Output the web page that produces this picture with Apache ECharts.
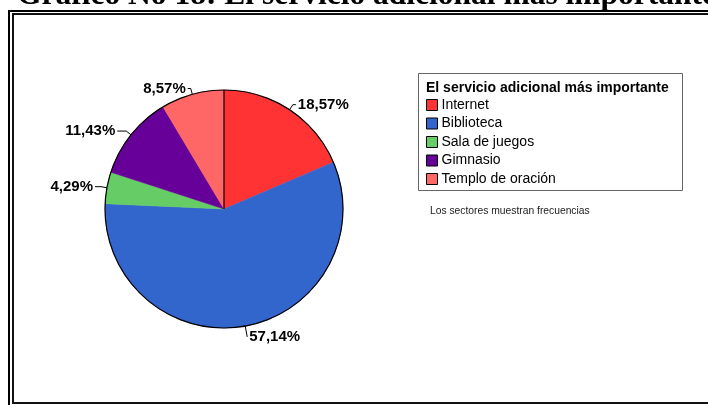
<!DOCTYPE html>
<html>
<head>
<meta charset="utf-8">
<script src="https://cdn.jsdelivr.net/npm/echarts@6/dist/echarts.min.js"></script>
<style>
  html, body { margin: 0; padding: 0; background: #fff; }
  #chart { width: 708px; height: 405px; }
</style>
</head>
<body>
<div id="chart"></div>
<script>
// Respuestas: servicio adicional más importante (frecuencias)
var categories = ['Internet', 'Biblioteca', 'Sala de juegos', 'Gimnasio', 'Templo de oración'];
var frequencies = [13, 40, 3, 8, 6];
var sliceColors = ['#FF3333', '#3366CC', '#66CC66', '#660099', '#FF6666'];
// leader lines: radial part and horizontal part for each label
var leaderOut = [6, 11, 6, 6, 6];
var leaderRun = [3, 0, 6, 9, 3];

var chartTitle = 'Gráfico No 18: El servicio adicional más importante';
var legendTitle = 'El servicio adicional más importante';
var footNote = 'Los sectores muestran frecuencias';

var pieCenter = [224, 209];
var pieRadius = 119;
var sans = '"Liberation Sans", Arial, sans-serif';

var total = frequencies.reduce(function (a, b) { return a + b; }, 0);

var chart = echarts.init(document.getElementById('chart'), null, { renderer: 'canvas' });

chart.setOption({
  animation: false,
  backgroundColor: '#ffffff',
  title: [{
    text: chartTitle,
    left: 17,
    top: -20,
    padding: 0,
    textStyle: { fontFamily: '"Liberation Serif", "Times New Roman", serif', fontWeight: 'bold', fontSize: 31.5, color: '#000' }
  }, {
    text: legendTitle,
    left: 426,
    top: 81,
    padding: 0,
    textStyle: { fontFamily: sans, fontWeight: 'bold', fontSize: 14, color: '#000' }
  }, {
    text: footNote,
    left: 430,
    top: 206,
    padding: 0,
    textStyle: { fontFamily: sans, fontWeight: 'normal', fontSize: 10.3, color: '#222' }
  }],
  legend: {
    orient: 'vertical',
    left: 426,
    top: 98,
    padding: 0,
    itemWidth: 11,
    itemHeight: 11,
    itemGap: 4.5,
    icon: 'rect',
    selectedMode: false,
    data: categories,
    itemStyle: { borderColor: '#000', borderWidth: 1 },
    textStyle: { fontFamily: sans, fontSize: 14, color: '#000', padding: [0, 0, 0, -1] }
  },
  graphic: [
    // double frame
    { type: 'rect', silent: true, shape: { x: 9, y: 11, width: 800, height: 500 },
      style: { fill: 'none', stroke: '#000', lineWidth: 2 } },
    { type: 'rect', silent: true, shape: { x: 13, y: 14, width: 800, height: 389 },
      style: { fill: 'none', stroke: '#111', lineWidth: 2 } },
    // legend box
    { type: 'rect', silent: true, shape: { x: 418.5, y: 73.5, width: 264, height: 117 },
      style: { fill: 'none', stroke: '#666', lineWidth: 1 } },
    // start radius of the pie
    { type: 'line', silent: true, z: 10,
      shape: { x1: pieCenter[0], y1: pieCenter[1], x2: pieCenter[0], y2: pieCenter[1] - pieRadius },
      style: { stroke: '#000', lineWidth: 1.2 } }
  ],
  series: [{
    type: 'pie',
    center: pieCenter,
    radius: pieRadius,
    startAngle: 90,
    clockwise: true,
    avoidLabelOverlap: false,
    percentPrecision: 2,
    data: categories.map(function (name, i) {
      return {
        name: name,
        value: frequencies[i],
        itemStyle: { color: sliceColors[i], borderColor: sliceColors[i], borderWidth: 0.5 },
        labelLine: { length: leaderOut[i], length2: leaderRun[i] }
      };
    }),
    label: {
      show: true,
      position: 'outside',
      distanceToLabelLine: 2,
      formatter: function (p) { return p.percent.toFixed(2).replace('.', ',') + '%'; },
      fontFamily: sans,
      fontWeight: 'bold',
      fontSize: 15,
      color: '#000'
    },
    labelLine: { show: true, length: 6, length2: 3, lineStyle: { color: '#000', width: 1 } },
    emphasis: { disabled: true }
  }, {
    // outline of the whole disc
    type: 'pie',
    silent: true,
    center: pieCenter,
    radius: pieRadius,
    startAngle: 90,
    z: 5,
    data: [{ name: 'total', value: total }],
    itemStyle: { color: 'rgba(0,0,0,0)', borderColor: '#000', borderWidth: 1.2 },
    label: { show: false },
    labelLine: { show: false },
    emphasis: { disabled: true }
  }]
});
</script>
</body>
</html>
